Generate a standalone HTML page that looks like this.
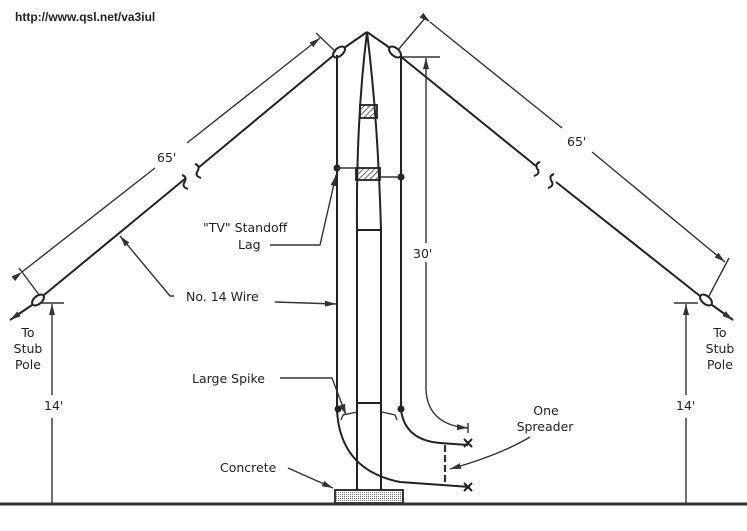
<!DOCTYPE html>
<html><head><meta charset="utf-8"><style>
html,body{margin:0;padding:0;background:#fff;}
svg{display:block;}
text{font-family:"DejaVu Sans","Liberation Sans",sans-serif;fill:#222;}
</style></head><body>
<svg width="747" height="531" viewBox="0 0 747 531" xmlns="http://www.w3.org/2000/svg">
<defs>
<marker id="a" markerWidth="11" markerHeight="6" refX="11" refY="3" orient="auto" markerUnits="userSpaceOnUse"><path d="M0,0 L11,3 L0,6 z" fill="#333"/></marker>
<pattern id="h" width="4" height="4" patternUnits="userSpaceOnUse" patternTransform="rotate(45)"><line x1="0" y1="0" x2="0" y2="4" stroke="#333" stroke-width="1.5"/></pattern>
<pattern id="d" width="2" height="2" patternUnits="userSpaceOnUse"><rect width="1" height="1" fill="#777"/></pattern>
</defs>
<rect width="747" height="531" fill="#fff"/>
<text x="15" y="21" font-weight="bold" font-size="12" style="font-family:'Liberation Sans',sans-serif" fill="#111">http://www.qsl.net/va3iul</text>

<g stroke="#222" fill="none" stroke-width="2">
<line x1="44" y1="295" x2="186" y2="178"/>
<line x1="198" y1="168" x2="334" y2="55"/>
<path d="M182,175 q6,2 2,8 q-2,4 4,6"/>
<path d="M195,164 q6,2 2,8 q-2,4 4,6"/>
<line x1="344" y1="48" x2="367" y2="32"/>
<line x1="367" y1="32" x2="390" y2="48"/>
<line x1="400" y1="56" x2="536" y2="166"/>
<line x1="556" y1="182" x2="700" y2="296"/>
<path d="M540,162 q-6,2 -2,8 q2,4 -4,6"/>
<path d="M554,174 q-6,2 -2,8 q2,4 -4,6"/>
<ellipse cx="339" cy="52" rx="7" ry="4" transform="rotate(-40 339 52)"/>
<ellipse cx="395" cy="52" rx="7" ry="4" transform="rotate(40 395 52)"/>
<ellipse cx="38" cy="300" rx="7" ry="4" transform="rotate(-40 38 300)"/>
<ellipse cx="706" cy="300" rx="7" ry="4" transform="rotate(40 706 300)"/>
<line x1="32" y1="305" x2="10" y2="320" marker-end="url(#a)"/>
<line x1="712" y1="305" x2="733" y2="320" marker-end="url(#a)"/>
<path d="M337,55 L337,410 Q340,470 400,482 L470,487"/>
<path d="M401,55 L401,410 Q405,440 440,443 L468,445"/>
<path d="M367,32 Q356,120 357,230 L357,490"/>
<path d="M367,32 Q378,120 381,230 L381,490"/>
<line x1="357" y1="230" x2="381" y2="230"/>
<line x1="358" y1="403" x2="380" y2="403"/>
</g>
<rect x="360" y="105" width="17" height="13" fill="url(#h)" stroke="#222" stroke-width="1.8"/>
<rect x="356" y="168" width="24" height="12" fill="url(#h)" stroke="#222" stroke-width="1.8"/>
<rect x="335" y="490" width="68" height="13" fill="url(#d)" stroke="#222" stroke-width="1.8"/>
<line x1="0" y1="504" x2="747" y2="504" stroke="#333" stroke-width="3"/>

<g stroke="#222" fill="#222">
<circle cx="337" cy="168" r="3"/><circle cx="401" cy="177" r="3"/>
<circle cx="338" cy="409" r="3"/><circle cx="401" cy="409" r="3"/>
</g>
<g stroke="#333" fill="none" stroke-width="1.4">
<line x1="337" y1="168" x2="356" y2="168"/>
<line x1="401" y1="177" x2="381" y2="177"/>
<path d="M341,420 L343,415 L357,412"/>
<path d="M397,420 L395,415 L382,412"/>
<line x1="22" y1="272" x2="155" y2="168" marker-start="url(#a)"/>
<line x1="187" y1="143" x2="320" y2="38" marker-end="url(#a)"/>
<line x1="19" y1="268" x2="40" y2="296"/>
<line x1="316" y1="33" x2="336" y2="52"/>
<line x1="430" y1="22" x2="562" y2="128" marker-start="url(#a)"/>
<line x1="592" y1="152" x2="725" y2="262" marker-end="url(#a)"/>
<line x1="426" y1="17" x2="398" y2="50"/>
<line x1="729" y1="258" x2="709" y2="296"/>
<line x1="402" y1="57" x2="440" y2="57"/>
<line x1="426" y1="243" x2="426" y2="58" marker-end="url(#a)"/>
<path d="M426,262 L426,390 Q428,425 468,428" marker-end="url(#a)"/>
<line x1="468" y1="423" x2="468" y2="433"/>
<line x1="40" y1="303" x2="64" y2="303"/>
<line x1="52" y1="395" x2="52" y2="304" marker-end="url(#a)"/>
<line x1="52" y1="418" x2="52" y2="503"/>
<line x1="674" y1="303" x2="698" y2="303"/>
<line x1="686" y1="395" x2="686" y2="304" marker-end="url(#a)"/>
<line x1="686" y1="418" x2="686" y2="503"/>
<line x1="445" y1="445" x2="445" y2="486" stroke-dasharray="7,3" stroke-width="2.2"/>
<path d="M270,245 L320,245 L336,175" marker-end="url(#a)"/>
<path d="M174,296 L170,296 L120,236" marker-end="url(#a)"/>
<line x1="275" y1="302" x2="336" y2="304" marker-end="url(#a)"/>
<path d="M280,378 L332,378 L346,415" marker-end="url(#a)"/>
<line x1="288" y1="468" x2="333" y2="488" marker-end="url(#a)"/>
<path d="M530,437 Q500,455 450,469" marker-end="url(#a)"/>
</g>
<g stroke="#222" stroke-width="2">
<line x1="464" y1="439" x2="472" y2="447"/><line x1="472" y1="439" x2="464" y2="447"/>
<line x1="464" y1="483" x2="472" y2="491"/><line x1="472" y1="483" x2="464" y2="491"/>
</g>
<g font-size="12.5">
<text x="157" y="162">65'</text>
<text x="567" y="146">65'</text>
<text x="203" y="232">"TV" Standoff</text>
<text x="238" y="249">Lag</text>
<text x="413" y="258">30'</text>
<text x="186" y="301">No. 14 Wire</text>
<text x="192" y="383">Large Spike</text>
<text x="220" y="472">Concrete</text>
<text x="546" y="415" text-anchor="middle">One</text>
<text x="545" y="431" text-anchor="middle">Spreader</text>
<text x="28" y="337" text-anchor="middle">To</text>
<text x="28" y="353" text-anchor="middle">Stub</text>
<text x="28" y="369" text-anchor="middle">Pole</text>
<text x="720" y="337" text-anchor="middle">To</text>
<text x="720" y="353" text-anchor="middle">Stub</text>
<text x="720" y="369" text-anchor="middle">Pole</text>
<text x="44" y="410">14'</text>
<text x="676" y="410">14'</text>
</g>
</svg>
</body></html>
